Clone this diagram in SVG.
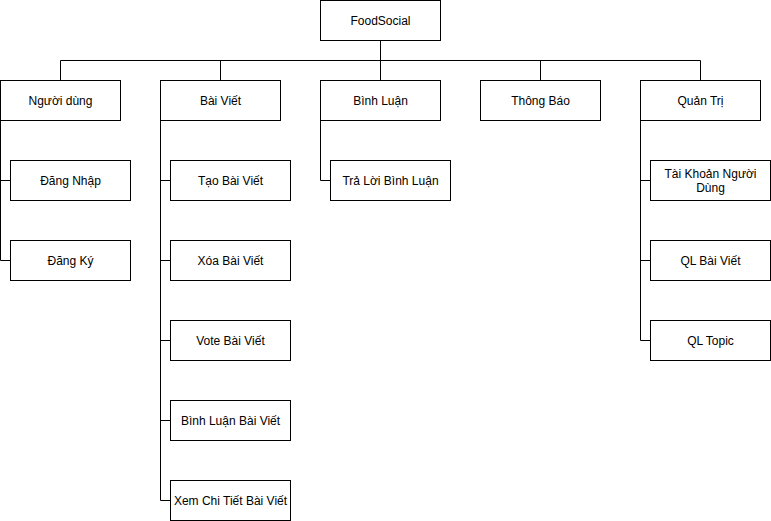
<svg xmlns="http://www.w3.org/2000/svg" width="771" height="521" viewBox="0 0 771 521">
<style>
.box{fill:#fff;stroke:#000;stroke-width:1}
.lbl{font-family:"Liberation Sans",Arial,sans-serif;font-size:12px;fill:#000;text-anchor:middle;dominant-baseline:central}
.conn{fill:none;stroke:#000;stroke-width:1}
</style>
<rect width="771" height="521" fill="#fff"/>
<g id="connectors" class="conn">
<path d="M380.5 40.5V60.5M60.5 60.5H700.5M60.5 60.5V80.5M220.5 60.5V80.5M380.5 60.5V80.5M540.5 60.5V80.5M700.5 60.5V80.5"/>
<path d="M0.5 120.5V260.5H10.5M0.5 180.5H10.5"/>
<path d="M160.5 120.5V500.5H170.5M160.5 180.5H170.5M160.5 260.5H170.5M160.5 340.5H170.5M160.5 420.5H170.5"/>
<path d="M320.5 120.5V180.5H330.5"/>
<path d="M640.5 120.5V340.5H650.5M640.5 180.5H650.5M640.5 260.5H650.5"/>
</g>
<g id="root"><rect class="box" x="320.5" y="0.5" width="120" height="40"/><text class="lbl" x="380.5" y="20.5">FoodSocial</text></g>
<g id="nguoidung"><rect class="box" x="0.5" y="80.5" width="120" height="40"/><text class="lbl" x="60.5" y="100.5">Người dùng</text></g>
<g id="baiviet"><rect class="box" x="160.5" y="80.5" width="120" height="40"/><text class="lbl" x="220.5" y="100.5">Bài Viết</text></g>
<g id="binhluan"><rect class="box" x="320.5" y="80.5" width="120" height="40"/><text class="lbl" x="380.5" y="100.5">Bình Luận</text></g>
<g id="thongbao"><rect class="box" x="480.5" y="80.5" width="120" height="40"/><text class="lbl" x="540.5" y="100.5">Thông Báo</text></g>
<g id="quantri"><rect class="box" x="640.5" y="80.5" width="120" height="40"/><text class="lbl" x="700.5" y="100.5">Quản Trị</text></g>
<g id="dangnhap"><rect class="box" x="10.5" y="160.5" width="120" height="40"/><text class="lbl" x="70.5" y="180.5">Đăng Nhập</text></g>
<g id="dangky"><rect class="box" x="10.5" y="240.5" width="120" height="40"/><text class="lbl" x="70.5" y="260.5">Đăng Ký</text></g>
<g id="taobaiviet"><rect class="box" x="170.5" y="160.5" width="120" height="40"/><text class="lbl" x="230.5" y="180.5">Tạo Bài Viết</text></g>
<g id="xoabaiviet"><rect class="box" x="170.5" y="240.5" width="120" height="40"/><text class="lbl" x="230.5" y="260.5">Xóa Bài Viết</text></g>
<g id="votebaiviet"><rect class="box" x="170.5" y="320.5" width="120" height="40"/><text class="lbl" x="230.5" y="340.5">Vote Bài Viết</text></g>
<g id="binhluanbaiviet"><rect class="box" x="170.5" y="400.5" width="120" height="40"/><text class="lbl" x="230.5" y="420.5">Bình Luận Bài Viết</text></g>
<g id="xemchitiet"><rect class="box" x="170.5" y="480.5" width="120" height="40"/><text class="lbl" x="230.5" y="500.5">Xem Chi Tiết Bài Viết</text></g>
<g id="traloi"><rect class="box" x="330.5" y="160.5" width="120" height="40"/><text class="lbl" x="390.5" y="180.5">Trả Lời Bình Luận</text></g>
<g id="taikhoan"><rect class="box" x="650.5" y="160.5" width="120" height="40"/><text class="lbl" x="710.5" y="173.5">Tài Khoản Người</text><text class="lbl" x="710.5" y="187.5">Dùng</text></g>
<g id="qlbaiviet"><rect class="box" x="650.5" y="240.5" width="120" height="40"/><text class="lbl" x="710.5" y="260.5">QL Bài Viết</text></g>
<g id="qltopic"><rect class="box" x="650.5" y="320.5" width="120" height="40"/><text class="lbl" x="710.5" y="340.5">QL Topic</text></g>
</svg>
